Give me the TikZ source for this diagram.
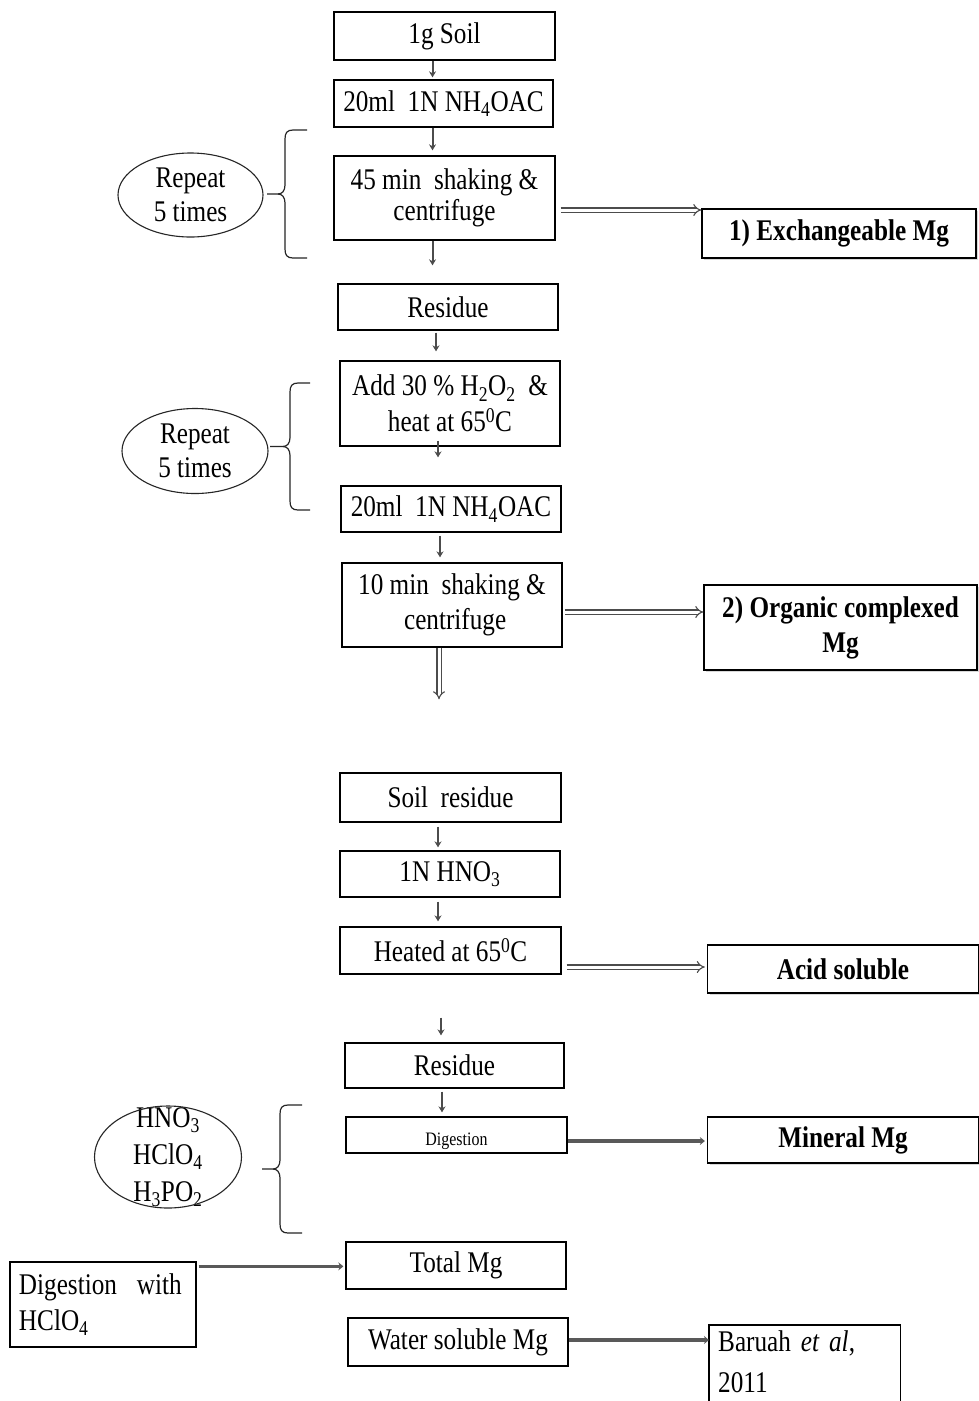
\documentclass[tikz,border=0pt]{standalone}
\usepackage{fontspec}
\setmainfont[FakeStretch=0.84]{Liberation Serif}
\usetikzlibrary{arrows.meta,shadows}
\newcommand{\curlybr}[5]{%
 \draw[brc] (#1,#4) -- ({#2+8},#4) .. controls ({#2+2},#4) and (#2,{#4+3}) .. (#2,{#4+9})
   -- (#2,{(#4+#5)/2-9}) .. controls (#2,{(#4+#5)/2-3}) and ({#2-3},{(#4+#5)/2}) .. ({#2-7},{(#4+#5)/2})
   -- (#3,{(#4+#5)/2});
 \draw[brc] ({#2-7},{(#4+#5)/2}) .. controls ({#2-3},{(#4+#5)/2}) and (#2,{(#4+#5)/2+3}) .. (#2,{(#4+#5)/2+9})
   -- (#2,{#5-9}) .. controls (#2,{#5-3}) and ({#2+2},#5) .. ({#2+8},#5) -- (#1,#5);
}
\begin{document}
\begin{tikzpicture}[x=1pt,y=-1pt,
 every node/.style={font=\fontsize{30}{34}\selectfont},
 box/.style={draw=black, line width=1.3pt, rectangle, inner sep=0pt, align=center, fill=white},
 res/.style={box, font=\fontsize{30}{35}\selectfont\bfseries,
   drop shadow={opacity=0.3, shadow xshift=2pt, shadow yshift=-2pt}},
 ell/.style={draw=black!85, line width=1.1pt},
 brc/.style={draw=black!85, line width=1.2pt},
 sarr/.style={line width=2pt, draw=black!70, -{Stealth[length=6pt,width=7pt]}},
 hol/.style={double=white, draw=black!70, line width=1.1pt, double distance=3pt, -{Implies}},
 dk/.style={line width=3.5pt, draw=black!65, -{Stealth[length=5pt,width=8pt]}},
]
\fill[white] (0,0) rectangle (979,1401);
\useasboundingbox (0,0) rectangle (979,1401);

% main column
\node[box, minimum width=221pt, minimum height=48pt] (n1) at (444.5,36) {1g Soil};
\node[box, minimum width=219pt, minimum height=47pt] (n2) at (443.5,103.5) {20ml\ \ 1N NH\textsubscript{4}OAC};
\node[box, minimum width=221pt, minimum height=84pt, font=\fontsize{30}{31}\selectfont] (n3) at (444.5,198) {45 min\ \ shaking \&\\centrifuge};
\node[res, minimum width=274pt, minimum height=49pt] (r1) at (839,233.5) {1) Exchangeable Mg};
\node[box, minimum width=220pt, minimum height=46pt] (n4) at (448,307) {Residue};
\node[box, minimum width=220pt, minimum height=85pt, font=\fontsize{30}{36}\selectfont] (n5) at (450,403.5) {Add 30 \% H\textsubscript{2}O\textsubscript{2}\ \ \&\\heat at 65\textsuperscript{0}C};
\node[box, minimum width=220pt, minimum height=46pt] (n6) at (451,509) {20ml\ \ 1N NH\textsubscript{4}OAC};
\node[box, minimum width=220pt, minimum height=84pt, font=\fontsize{30}{35}\selectfont] (n7) at (452,605) {10 min\ \ shaking \&\\\ centrifuge};
\node[res, minimum width=273pt, minimum height=85pt] (r2) at (840.5,627.5) {2) Organic complexed\\Mg};
\node[box, minimum width=221pt, minimum height=49pt] (n8) at (450.5,797.5) {Soil\ \ residue};
\node[box, minimum width=220pt, minimum height=46pt] (n9) at (450,874) {1N HNO\textsubscript{3}};
\node[box, minimum width=221pt, minimum height=47pt] (n10) at (450.5,950.5) {Heated at 65\textsuperscript{0}C};
\node[res, minimum width=271pt, minimum height=48pt] (r3) at (843,969) {Acid soluble};
\node[box, minimum width=219pt, minimum height=45pt] (n11) at (454.5,1065.5) {Residue};
\node[box, minimum width=221pt, minimum height=36pt, font=\fontsize{19}{20}\selectfont] (n12) at (456.5,1135) {\raisebox{-6pt}[\height][\depth]{Digestion}};
\node[res, minimum width=271pt, minimum height=46pt] (r4) at (843,1140) {Mineral Mg};
\node[box, minimum width=220pt, minimum height=47pt] (n13) at (456,1265.5) {Total Mg};
\node[box, minimum width=186pt, minimum height=85pt, align=left, text width=168pt, inner xsep=9pt, font=\fontsize{30}{36}\selectfont] (l1) at (103,1304.5) {Digestion\ \ with\\HClO\textsubscript{4}};
\node[box, minimum width=220pt, minimum height=48pt] (n14) at (458,1342) {Water soluble Mg};
\node[anchor=north west, inner xsep=9pt, inner ysep=5pt, text width=173pt, align=left, font=\fontsize{30}{41}\selectfont] (r5) at (709,1325) {Baruah \textit{et al},\\2011};
\draw[line width=1.3pt] ([yshift=-76pt]r5.north west) -- (r5.north west) -- (r5.north east) -- ([yshift=-76pt]r5.north east);

% ellipses
\node[align=center, inner sep=0pt] (e1) at (190.5,195) {Repeat\\5 times};
\draw[ell] (e1.center) ellipse [x radius=72.5pt, y radius=42pt];
\node[align=center, inner sep=0pt] (e2) at (195,451) {Repeat\\5 times};
\draw[ell] (e2.center) ellipse [x radius=73pt, y radius=42.5pt];
\node[align=center, inner sep=0pt, font=\fontsize{30}{37}\selectfont] (e3) at (168,1157) {HNO\textsubscript{3}\\HClO\textsubscript{4}\\H\textsubscript{3}PO\textsubscript{2}};
\draw[ell] (e3.center) ellipse [x radius=73.5pt, y radius=51pt];

% braces
\curlybr{307}{285}{267}{130}{258}
\curlybr{310}{290}{270}{383}{510}
\curlybr{302}{280}{262}{1105}{1233}

% small down arrows
\draw[sarr, shorten >=2pt] ([xshift=-12pt]n1.south) -- ([xshift=-12pt]n1.south |- n2.north);
\draw[sarr, shorten >=5pt] ([xshift=-11pt]n2.south) -- ([xshift=-11pt]n2.south |- n3.north);
\draw[sarr, shorten >=18pt] ([xshift=-12pt]n3.south) -- ([xshift=-12pt]n3.south |- n4.north);
\draw[sarr, shorten >=9pt, shorten <=2pt] ([xshift=-12pt]n4.south) -- ([xshift=-12pt]n4.south |- n5.north);
\draw[sarr, shorten >=28pt] ([xshift=-12pt,yshift=6pt]n5.south) -- ([xshift=-12pt]n5.south |- n6.north);
\draw[sarr, shorten >=5pt, shorten <=3pt] ([xshift=-11pt]n6.south) -- ([xshift=-11pt]n6.south |- n7.north);
\draw[hol, shorten >=73pt] ([xshift=-13pt]n7.south) -- ([xshift=-13pt]n7.south |- n8.north);
\draw[sarr, shorten >=3pt, shorten <=4pt] ([xshift=-12.5pt]n8.south) -- ([xshift=-12.5pt]n8.south |- n9.north);
\draw[sarr, shorten >=5pt, shorten <=4pt] ([xshift=-12pt]n9.south) -- ([xshift=-12pt]n9.south |- n10.north);
\draw[sarr, shorten >=7pt, shorten <=43pt] ([xshift=-9.5pt]n10.south) -- ([xshift=-9.5pt]n10.south |- n11.north);
\draw[sarr, shorten >=4pt, shorten <=3pt] ([xshift=-12.5pt]n11.south) -- ([xshift=-12.5pt]n11.south |- n12.north);

% side arrows
\draw[hol] ([xshift=5pt,yshift=-12pt]n3.east) -- ([yshift=-12pt]n3.east -| r1.west);
\draw[hol] ([xshift=2pt,yshift=-7pt]n7.east) -- ([yshift=-7pt]n7.east -| r2.west);
\draw[hol, shorten >=2pt] ([xshift=5pt,yshift=-16.5pt]n10.east) -- ([yshift=-16.5pt]n10.east -| r3.west);
\draw[dk, shorten >=2pt] ([yshift=-6pt]n12.east) -- ([yshift=-6pt]n12.east -| r4.west);
\draw[dk, shorten >=2pt] ([xshift=2pt,yshift=-5pt]l1.north east) -- ([yshift=-5pt]l1.north east -| n13.west);
\draw[dk] ([yshift=2pt]n14.east) -- ([yshift=2pt]n14.east -| r5.west);
\end{tikzpicture}
\end{document}
